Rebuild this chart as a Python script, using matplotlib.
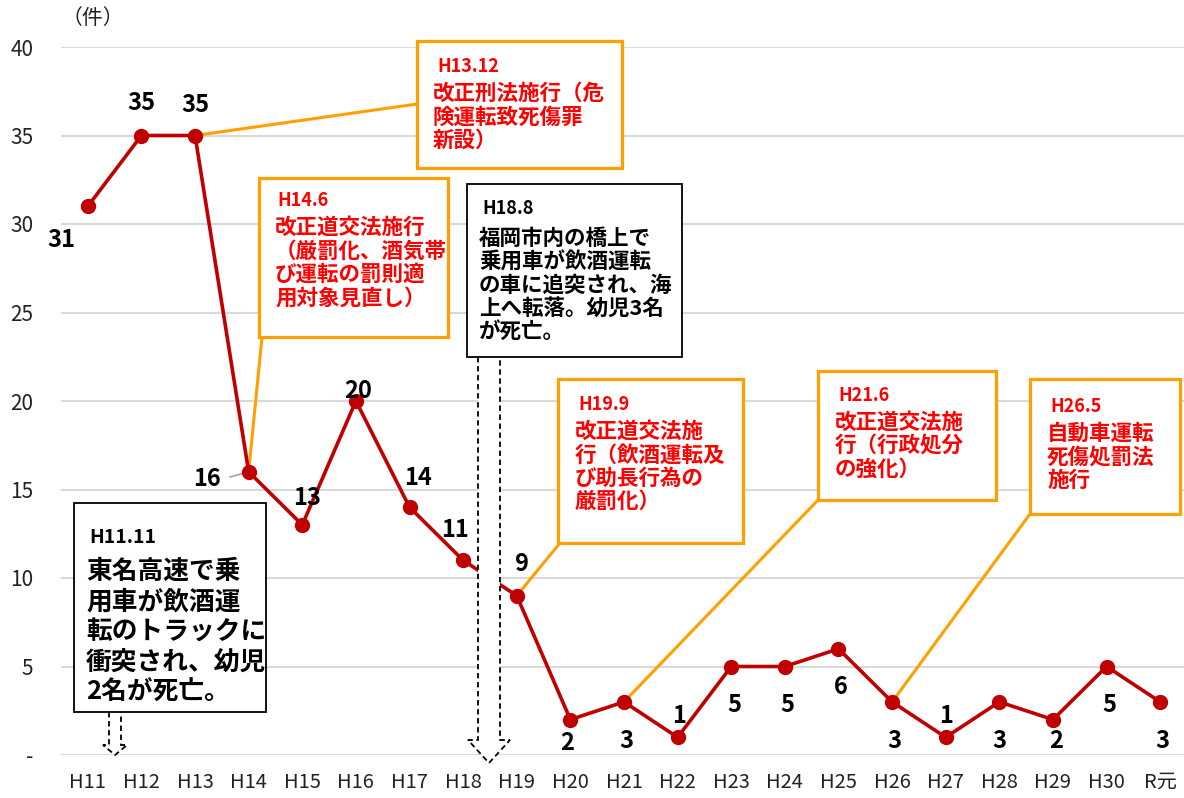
import matplotlib
matplotlib.use('Agg')
import matplotlib.pyplot as plt
from matplotlib.patches import Rectangle, Polygon

plt.rcParams['font.family'] = ['Noto Sans CJK JP', 'DejaVu Sans']

years = ['H11', 'H12', 'H13', 'H14', 'H15', 'H16', 'H17', 'H18', 'H19', 'H20',
         'H21', 'H22', 'H23', 'H24', 'H25', 'H26', 'H27', 'H28', 'H29', 'H30', 'R元']
counts = [31, 35, 35, 16, 13, 20, 14, 11, 9, 2, 3, 1, 5, 5, 6, 3, 1, 3, 2, 5, 3]
yticks = [0, 5, 10, 15, 20, 25, 30, 35, 40]
ylabels = ['-', '5', '10', '15', '20', '25', '30', '35', '40']

# label offsets in pixels (dx, dy) from the point, dy positive = up
label_off = [(-26, -34), (0, 32), (0, 30), (-42, -7), (5, 27), (2, 10), (8, 29), (-8, 30),
             (5, 32), (-3, -23), (2, -39), (1, 21), (3, -38), (3, -38), (2, -38),
             (2, -39), (0, 21), (0, -39), (3, -21), (3, -38), (2, -39)]

W, H = 1184, 798
fig = plt.figure(figsize=(W / 100, H / 100), dpi=100)
ax = fig.add_axes([61 / W, 43 / H, 1126 / W, 708 / H])
x = list(range(len(years)))

ax.set_xlim(-0.5, len(years) - 0.5)
ax.set_ylim(0, 40)
ax.set_yticks(yticks)
ax.set_yticklabels(ylabels, fontsize=15, color='#222222')
ax.set_xticks(x)
ax.set_xticklabels(years, fontsize=14.5, color='#222222')
ax.tick_params(length=0)
ax.tick_params(axis='x', pad=12)
ax.tick_params(axis='y', pad=20)
ax.grid(axis='y', color='#d9d9d9', lw=1.5)
ax.set_axisbelow(True)
for s in ax.spines.values():
    s.set_visible(False)

fig.canvas.draw()
inv = ax.transData.inverted()


def P(px, py):
    return tuple(inv.transform((px, H - py)))


# connector lines from points to boxes
orange = '#FFA000'
conns = [(2, (417, 104)), (3, (262, 337)), (8, (560, 543)), (10, (818, 500)), (15, (1030, 514))]
for i, end in conns:
    ex, ey = P(*end)
    ax.plot([x[i], ex], [counts[i], ey], color=orange, lw=2.2, zorder=2, clip_on=False)

# gray leader for the "16" label
lx0, ly0 = P(230, 477)
ax.plot([lx0, x[3]], [ly0, counts[3]], color='#a6a6a6', lw=1.2, zorder=2)

ax.plot(x, counts, color='#C00000', lw=2.6, marker='o', ms=10, zorder=3)

for xi, v, (dx, dy) in zip(x, counts, label_off):
    ax.annotate(str(v), (xi, v), xytext=(dx * 0.72, dy * 0.72), textcoords='offset points',
                ha='center', va='center', fontsize=17, fontweight='bold', zorder=5)


def box(x0, y0, x1, y1, ec, lw):
    a = P(x0, y1)
    b = P(x1, y0)
    ax.add_patch(Rectangle(a, b[0] - a[0], b[1] - a[1], fc='white', ec=ec, lw=lw,
                           zorder=6, clip_on=False))


def txt(px, py, s, size, color, ls=1.0):
    tx, ty = P(px, py)
    ax.text(tx, ty, s, fontsize=size, color=color, fontweight='bold', ha='left', va='top',
            linespacing=ls, zorder=7, clip_on=False)


def darrow(cx, top, shaft_bot, tip, sw, hw):
    pts = [P(cx - sw, top), P(cx - sw, shaft_bot), P(cx - hw, shaft_bot), P(cx, tip),
           P(cx + hw, shaft_bot), P(cx + sw, shaft_bot), P(cx + sw, top)]
    ax.add_patch(Polygon(pts, closed=False, fc='white', ec='black', lw=1.3, ls=(0, (3, 2)),
                         zorder=4, clip_on=False))


red = '#FF0000'
ls_r = 1.14
# orange boxes
box(417, 41, 622, 168, orange, 2.3)
txt(437, 57, 'H13.12', 13, red)
txt(433, 83, '改正刑法施行（危\n険運転致死傷罪\n新設）', 15.5, red, ls_r)

box(259, 178, 448, 337, orange, 2.3)
txt(277, 191, 'H14.6', 13, red)
txt(275, 217, '改正道交法施行\n（厳罰化、酒気帯\nび運転の罰則適\n用対象見直し）', 15.5, red, ls_r)

box(558, 379, 743, 543, orange, 2.3)
txt(578, 395, 'H19.9', 13, red)
txt(575, 421, '改正道交法施\n行（飲酒運転及\nび助長行為の\n厳罰化）', 15.5, red, ls_r)

box(818, 371, 996, 500, orange, 2.3)
txt(838, 386, 'H21.6', 13, red)
txt(835, 412, '改正道交法施\n行（行政処分\nの強化）', 15.5, red, ls_r)

box(1030, 379, 1180, 514, orange, 2.3)
txt(1050, 397, 'H26.5', 13, red)
txt(1047, 423, '自動車運転\n死傷処罰法\n施行', 15.5, red, ls_r)

# black boxes
darrow(489, 357, 740, 763, 11, 21)
box(467, 184, 682, 357, 'black', 1.3)
txt(482, 199, 'H18.8', 13, 'black')
txt(479, 228, '福岡市内の橋上で\n乗用車が飲酒運転\nの車に追突され、海\n上へ転落。幼児3名\nが死亡。', 15.5, 'black', 1.13)

darrow(115, 712, 745, 755, 6, 12)
box(74, 503, 266, 712, 'black', 1.3)
txt(89, 528, 'H11.11', 14, 'black')
txt(86, 558, '東名高速で乗\n用車が飲酒運\n転のトラックに\n衝突され、幼児\n2名が死亡。', 18.5, 'black', 1.15)

fig.text(62 / W, 1 - 18 / H, '（件）', fontsize=15, ha='left', va='center', color='#222222')

fig.savefig('out.png', dpi=100)
